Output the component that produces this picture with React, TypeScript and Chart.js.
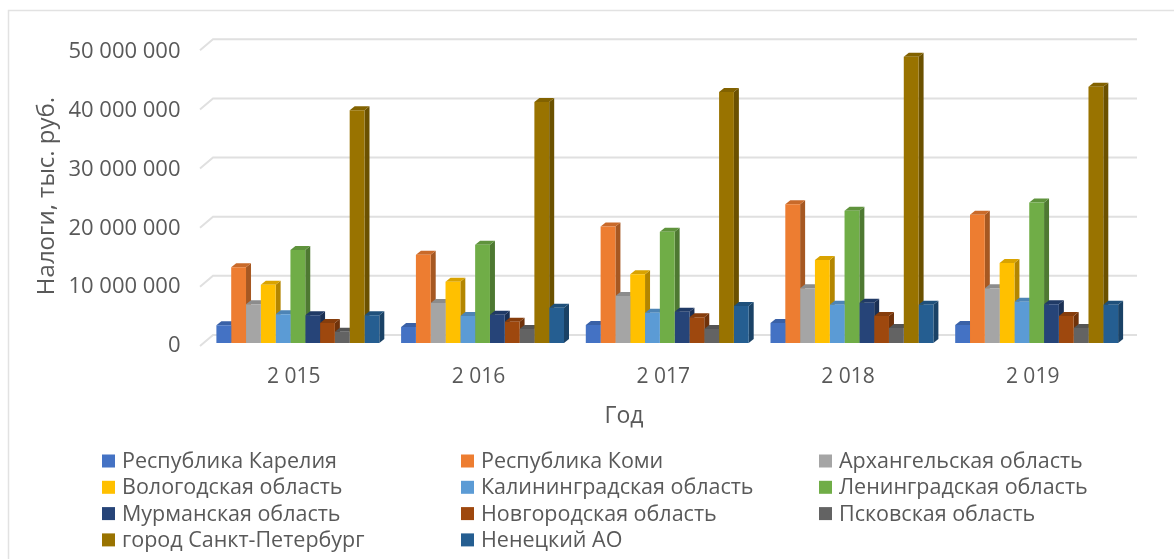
import React, { useEffect, useRef } from "react";
import { Chart, registerables } from "chart.js";

Chart.register(...registerables);

const years = ["2 015", "2 016", "2 017", "2 018", "2 019"];
const yTickStep = 10000000;
const yMax = 50000000;
const yAxisTitle = "Налоги, тыс. руб.";
const xAxisTitle = "Год";

const karelia = [3000000, 2700000, 3060000, 3400000, 3060000];
const komi = [12900000, 15000000, 19800000, 23600000, 21800000];
const arkhangelsk = [6600000, 6800000, 8000000, 9300000, 9300000];
const vologda = [9900000, 10400000, 11700000, 14100000, 13600000];
const kaliningrad = [4900000, 4600000, 5150000, 6500000, 7000000];
const leningrad = [15800000, 16700000, 18900000, 22500000, 23900000];
const murmansk = [4700000, 4800000, 5300000, 6850000, 6600000];
const novgorod = [3400000, 3600000, 4400000, 4600000, 4600000];
const pskov = [1900000, 2400000, 2400000, 2550000, 2550000];
const spb = [39600000, 41000000, 42700000, 48700000, 43600000];
const nenets = [4700000, 6000000, 6300000, 6500000, 6500000];

const seriesNames = [
  "Республика Карелия", "Республика Коми", "Архангельская область",
  "Вологодская область", "Калининградская область", "Ленинградская область",
  "Мурманская область", "Новгородская область", "Псковская область",
  "город Санкт-Петербург", "Ненецкий АО",
];
const seriesValues = [karelia, komi, arkhangelsk, vologda, kaliningrad, leningrad, murmansk, novgorod, pskov, spb, nenets];
const seriesColors = [
  "#4472C4", "#ED7D31", "#A5A5A5", "#FFC000", "#5B9BD5", "#70AD47",
  "#264478", "#9E480E", "#636363", "#997300", "#255E91",
];

const FONT = '"Open Sans", sans-serif';
const TEXT = "#595959";
const GRID = "#e0e0e0";

function shade(hex: string, k: number) {
  const n = parseInt(hex.slice(1), 16);
  const r = Math.round(((n >> 16) & 255) * k);
  const g = Math.round(((n >> 8) & 255) * k);
  const b = Math.round((n & 255) * k);
  return `rgb(${r},${g},${b})`;
}

const pseudo3d = {
  id: "pseudo3d",
  beforeDatasetsDraw(chart: any) {
    const { ctx, scales } = chart;
    const y = scales.y;
    const base = y.getPixelForValue(0);
    const backLeft = 213, frontLeft = 200, backRight = 1137;
    ctx.save();
    // frame: only its top and left edges fall inside the picture
    ctx.strokeStyle = "#e2e2e2";
    ctx.lineWidth = 1.5;
    ctx.beginPath();
    ctx.moveTo(8.5, 559);
    ctx.lineTo(8.5, 10.5);
    ctx.lineTo(1174, 10.5);
    ctx.stroke();
    // walls' grid lines
    ctx.strokeStyle = GRID;
    ctx.lineWidth = 2;
    for (let v = 0; v <= yMax; v += yTickStep) {
      const p = y.getPixelForValue(v);
      const back = p - 8 - (base - p) * 0.006;
      ctx.beginPath();
      ctx.moveTo(frontLeft, back + 11);
      ctx.lineTo(backLeft, back);
      ctx.lineTo(backRight, back);
      ctx.stroke();
    }
    // side + top faces, left to right
    const dx = 5, dy = 4;
    const n = chart.data.labels.length;
    for (let c = 0; c < n; c++) {
      chart.data.datasets.forEach((ds: any, d: number) => {
        const el = chart.getDatasetMeta(d).data[c];
        const half = el.width / 2;
        const l = el.x - half, r = el.x + half, t = el.y;
        ctx.fillStyle = shade(seriesColors[d], 0.7);
        ctx.beginPath();
        ctx.moveTo(r, t);
        ctx.lineTo(r + dx, t - dy);
        ctx.lineTo(r + dx, base - dy);
        ctx.lineTo(r, base);
        ctx.closePath();
        ctx.fill();
        ctx.fillStyle = shade(seriesColors[d], 0.85);
        ctx.beginPath();
        ctx.moveTo(l, t);
        ctx.lineTo(l + dx, t - dy);
        ctx.lineTo(r + dx, t - dy);
        ctx.lineTo(r, t);
        ctx.closePath();
        ctx.fill();
      });
    }
    ctx.restore();
  },
  afterDraw(chart: any) {
    const { ctx } = chart;
    ctx.save();
    ctx.fillStyle = TEXT;
    ctx.font = `23px ${FONT}`;
    ctx.textAlign = "center";
    ctx.textBaseline = "middle";
    ctx.fillText(xAxisTitle, 624, 416);
    // three-column legend
    const cols = [102, 461, 819];
    ctx.font = `21.5px ${FONT}`;
    ctx.textAlign = "left";
    seriesNames.forEach((name, i) => {
      const col = cols[i % 3];
      const cy = 461 + Math.floor(i / 3) * 26.3;
      ctx.fillStyle = seriesColors[i];
      ctx.fillRect(col, cy - 6.5, 13, 13);
      ctx.fillStyle = TEXT;
      ctx.fillText(name, col + 20, cy + 1);
    });
    ctx.restore();
  },
};

export default function App() {
  const ref = useRef<HTMLCanvasElement | null>(null);
  useEffect(() => {
    document.body.style.margin = "0";
    document.body.style.overflow = "hidden";
    const chart = new Chart(ref.current as HTMLCanvasElement, {
      type: "bar",
      data: {
        labels: years,
        datasets: seriesNames.map((name, i) => ({
          label: name,
          data: seriesValues[i],
          backgroundColor: seriesColors[i],
          borderWidth: 0,
          categoryPercentage: 0.882,
          barPercentage: 1,
        })),
      },
      options: {
        responsive: false,
        animation: false,
        layout: { padding: { left: 33, right: 45, top: 49, bottom: 0 } },
        plugins: { legend: { display: false }, tooltip: { enabled: false } },
        scales: {
          x: {
            grid: { display: false },
            border: { display: false },
            afterFit(s: any) { s.height = 216; },
            ticks: {
              color: TEXT,
              font: { family: FONT, size: 21 },
              maxRotation: 0,
              autoSkip: false,
              padding: 13,
              labelOffset: -4,
            },
          },
          y: {
            min: 0,
            max: yMax,
            grid: { display: false },
            border: { display: false },
            afterFit(s: any) { s.width = 172.5; },
            title: {
              display: true,
              text: yAxisTitle,
              color: TEXT,
              font: { family: FONT, size: 24 },
              padding: 0,
            },
            ticks: {
              stepSize: yTickStep,
              color: TEXT,
              font: { family: FONT, size: 22 },
              padding: 17,
              labelOffset: 3,
              callback: (v: any) => String(v).replace(/\B(?=(\d{3})+(?!\d))/g, " "),
            },
          },
        },
      },
      plugins: [pseudo3d],
    } as any);
    return () => chart.destroy();
  }, []);
  return (
    <div style={{ position: "fixed", left: 0, top: 0, width: 1174, height: 559, background: "#fff" }}>
      <canvas ref={ref} width={1174} height={559} style={{ display: "block", filter: "blur(0.6px)" }} />
    </div>
  );
}
